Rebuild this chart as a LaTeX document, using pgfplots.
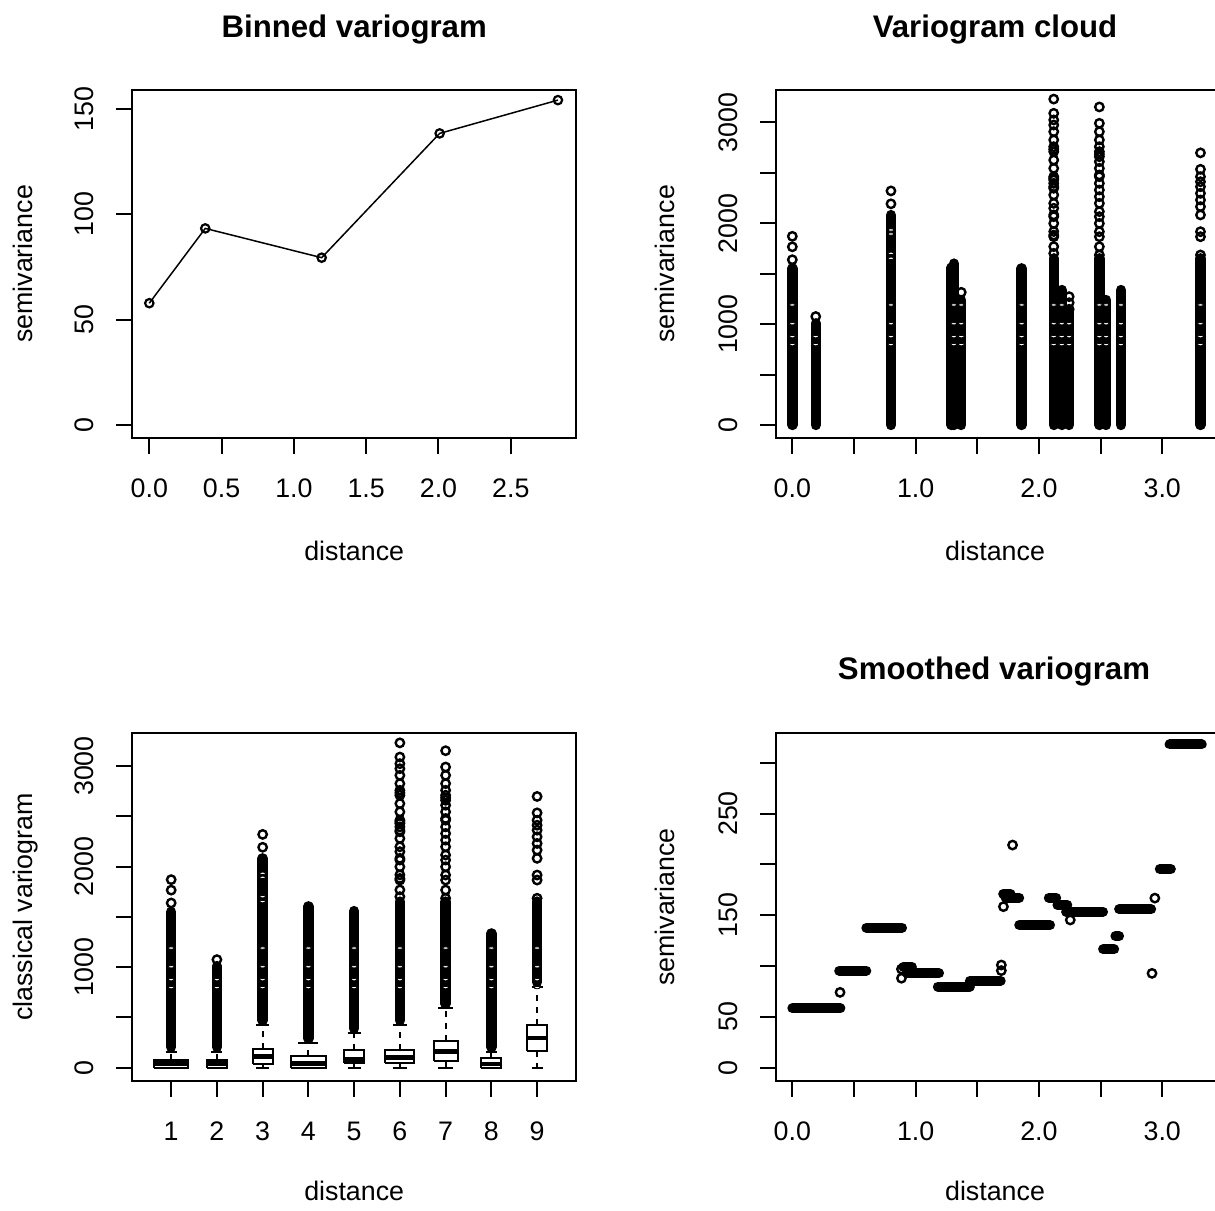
\documentclass[border=0pt]{standalone}
\usepackage{fontspec}
\setmainfont{Liberation Sans}
\usepackage{pgfplots}
\pgfplotsset{compat=1.18}

\newcommand{\lblfont}{\fontsize{13.4}{16}\selectfont}
\newcommand{\ttlfont}{\fontsize{15.6}{18}\selectfont\bfseries}

\pgfplotsset{
  rpanel/.style={
    scale only axis, anchor=south west,
    axis line style={line width=1pt},
    tick style={black, line width=1pt},
    tick align=outside, major tick length=8pt,
    xtick pos=bottom, ytick pos=left,
    tick label style={font=\lblfont, inner sep=0pt, text=black},
    xticklabel style={anchor=base, yshift=-21.8pt},
    yticklabel style={xshift=-11pt, rotate=90, anchor=south},
  },
  column/.style={black, line width=5.2pt, line cap=round},
  bar/.style={black, line width=5pt, line cap=round},
  circ/.style={black, only marks, mark=o, mark size=2.1pt, mark options={line width=1.2pt}},
  hole/.style={only marks, mark=*, mark size=1.5pt, mark options={fill=white, draw=none, yscale=0.4}},
  boxline/.style={black, line width=1pt},
  medline/.style={black, line width=2.4pt},
  whisk/.style={black, line width=1pt, dash pattern=on 3pt off 3pt},
}

\begin{document}
\begin{tikzpicture}
\useasboundingbox (0pt,0pt) rectangle (607.5pt,-605pt);

% ---------------- Binned variogram ----------------
\begin{axis}[rpanel, at={(66.15pt,-219pt)}, width=221.85pt, height=174pt,
  xmin=-0.1176, xmax=2.951, ymin=-6.2, ymax=159,
  xtick={0,0.5,1,1.5,2,2.5}, xticklabels={0.0,0.5,1.0,1.5,2.0,2.5},
  ytick={0,50,100,150}, yticklabels={0,50,100,150}]
\addplot[black, line width=0.75pt, mark=o, mark size=2.1pt,
  mark options={fill=white, line width=1.1pt}]
  coordinates {(0,57.8) (0.387,93.3) (1.192,79.4) (2.008,138.4) (2.826,154.2)};
\end{axis}

% ---------------- Variogram cloud ----------------
\begin{axis}[rpanel, at={(388pt,-219pt)}, width=220.25pt, height=174pt,
  xmin=-0.1323, xmax=3.440, ymin=-128.8, ymax=3320,
  xtick={0,0.5,1,1.5,2,2.5,3}, xticklabels={0.0,,1.0,,2.0,,3.0},
  ytick={0,500,1000,1500,2000,2500,3000}, yticklabels={0,,1000,,2000,,3000}]
\addplot[column] coordinates {(0,0) (0,1553)};
\addplot[column] coordinates {(0.19,0) (0.19,1008)};
\addplot[column] coordinates {(0.80,0) (0.80,2081)};
\addplot[column] coordinates {(1.29,0) (1.29,1560)};
\addplot[column] coordinates {(1.31,0) (1.31,1600)};
\addplot[column] coordinates {(1.37,0) (1.37,1239)};
\addplot[column] coordinates {(1.86,0) (1.86,1553)};
\addplot[column] coordinates {(2.12,0) (2.12,1652)};
\addplot[column] coordinates {(2.185,0) (2.185,1338)};
\addplot[column] coordinates {(2.245,0) (2.245,1124)};
\addplot[column] coordinates {(2.49,0) (2.49,1652)};
\addplot[column] coordinates {(2.545,0) (2.545,1239)};
\addplot[column] coordinates {(2.665,0) (2.665,1338)};
\addplot[column] coordinates {(3.31,0) (3.31,1652)};
% sparse upper values
\addplot[circ] coordinates {
  (0,1638) (0,1766) (0,1870)
  (0.19,1075)
  (0.80,2192) (0.80,2320)
  (1.37,1315)
  (2.245,1147) (2.245,1212) (2.245,1272)
  (2.12,1701) (2.12,1768) (2.12,1866) (2.12,1882) (2.12,1918) (2.12,1998)
  (2.12,2065) (2.12,2082) (2.12,2148) (2.12,2197) (2.12,2280) (2.12,2346)
  (2.12,2362) (2.12,2395) (2.12,2428) (2.12,2445) (2.12,2461) (2.12,2544)
  (2.12,2626) (2.12,2709) (2.12,2733) (2.12,2758) (2.12,2825) (2.12,2907)
  (2.12,2973) (2.12,3023) (2.12,3089) (2.12,3230)
  (2.49,1685) (2.49,1767) (2.49,1866) (2.49,1916) (2.49,1998) (2.49,2065)
  (2.49,2115) (2.49,2197) (2.49,2263) (2.49,2329) (2.49,2395) (2.49,2461)
  (2.49,2478) (2.49,2544) (2.49,2610) (2.49,2659) (2.49,2684) (2.49,2709)
  (2.49,2758) (2.49,2825) (2.49,2907) (2.49,2990) (2.49,3152)
  (3.31,1685) (3.31,1866) (3.31,1916) (3.31,2082) (3.31,2164) (3.31,2230)
  (3.31,2296) (3.31,2362) (3.31,2411) (3.31,2461) (3.31,2534) (3.31,2697)
};
% empty value levels inside the dense columns
\addplot[hole] coordinates {
  (0,797) (0,876) (0,1004) (0,1190)
  (0.19,797) (0.19,876)
  (0.80,797) (0.80,876) (0.80,1004) (0.80,1190) (0.80,1652) (0.80,1701) (0.80,1893) (0.80,1933)
  (1.31,797) (1.31,876) (1.31,1004) (1.31,1190)
  (1.37,797) (1.37,876) (1.37,1004) (1.37,1190)
  (1.86,797) (1.86,876) (1.86,1004) (1.86,1190)
  (2.12,797) (2.12,876) (2.12,1004) (2.12,1190)
  (2.185,797) (2.185,876) (2.185,1004) (2.185,1190)
  (2.245,797) (2.245,876) (2.245,1004)
  (2.49,797) (2.49,876) (2.49,1004) (2.49,1190)
  (2.545,797) (2.545,876) (2.545,1004) (2.545,1190)
  (2.665,797) (2.665,876) (2.665,1004) (2.665,1190)
  (3.31,797) (3.31,876) (3.31,1004) (3.31,1190)
};
\end{axis}

% ---------------- Classical variogram boxplots ----------------
\begin{axis}[rpanel, at={(66.15pt,-540.25pt)}, width=221.85pt, height=173.6pt,
  xmin=0.15, xmax=9.85, ymin=-127, ymax=3325,
  xtick={1,2,3,4,5,6,7,8,9}, xticklabels={1,2,3,4,5,6,7,8,9},
  ytick={0,500,1000,1500,2000,2500,3000}, yticklabels={0,,1000,,2000,,3000}]
% outliers: dense runs
\addplot[column] coordinates {(1,205) (1,1551)};
\addplot[column] coordinates {(2,205) (2,1011)};
\addplot[column] coordinates {(3,470) (3,2082)};
\addplot[column] coordinates {(4,290) (4,1605)};
\addplot[column] coordinates {(5,390) (5,1558)};
\addplot[column] coordinates {(6,470) (6,1652)};
\addplot[column] coordinates {(7,635) (7,1652)};
\addplot[column] coordinates {(8,205) (8,1336)};
\addplot[column] coordinates {(9,850) (9,1652)};
% outliers: sparse
\addplot[circ] coordinates {
  (1,1638) (1,1766) (1,1870)
  (2,1075)
  (3,2192) (3,2320)
  (6,1701) (6,1768) (6,1866) (6,1882) (6,1918) (6,1998)
  (6,2065) (6,2082) (6,2148) (6,2197) (6,2280) (6,2346)
  (6,2362) (6,2395) (6,2428) (6,2445) (6,2461) (6,2544)
  (6,2626) (6,2709) (6,2733) (6,2758) (6,2825) (6,2907)
  (6,2973) (6,3023) (6,3089) (6,3230)
  (7,1685) (7,1767) (7,1866) (7,1916) (7,1998) (7,2065)
  (7,2115) (7,2197) (7,2263) (7,2329) (7,2395) (7,2461)
  (7,2478) (7,2544) (7,2610) (7,2659) (7,2684) (7,2709)
  (7,2758) (7,2825) (7,2907) (7,2990) (7,3152)
  (9,1685) (9,1866) (9,1916) (9,2082) (9,2164) (9,2230)
  (9,2296) (9,2362) (9,2411) (9,2461) (9,2534) (9,2697)
};
\addplot[hole] coordinates {
  (1,797) (1,876) (1,1004) (1,1190)
  (2,797) (2,876)
  (3,797) (3,876) (3,1004) (3,1190) (3,1652) (3,1701) (3,1893) (3,1933)
  (4,797) (4,876) (4,1004) (4,1190)
  (5,797) (5,876) (5,1004) (5,1190)
  (6,797) (6,876) (6,1004) (6,1190)
  (7,797) (7,876) (7,1004) (7,1190)
  (8,797) (8,876) (8,1004) (8,1190)
  (9,797) (9,876) (9,1004) (9,1190)
};
% whiskers (dashed) from the quartiles to the whisker ends
\addplot[whisk] coordinates {(1,80) (1,159)};
\addplot[whisk] coordinates {(2,80) (2,159)};
\addplot[whisk] coordinates {(3,183) (3,425)};
\addplot[whisk] coordinates {(3,40) (3,0)};
\addplot[whisk] coordinates {(4,120) (4,243)};
\addplot[whisk] coordinates {(5,176) (5,342)};
\addplot[whisk] coordinates {(5,45) (5,0)};
\addplot[whisk] coordinates {(6,180) (6,425)};
\addplot[whisk] coordinates {(6,45) (6,0)};
\addplot[whisk] coordinates {(7,265) (7,590)};
\addplot[whisk] coordinates {(7,70) (7,0)};
\addplot[whisk] coordinates {(8,101) (8,160)};
\addplot[whisk] coordinates {(9,428) (9,805)};
\addplot[whisk] coordinates {(9,170) (9,0)};
% whisker caps (upper and lower)
\addplot[boxline] coordinates {(0.88,159) (1.12,159)};
\addplot[boxline] coordinates {(0.88,0) (1.12,0)};
\addplot[boxline] coordinates {(1.88,159) (2.12,159)};
\addplot[boxline] coordinates {(1.88,0) (2.12,0)};
\addplot[boxline] coordinates {(2.86,425) (3.14,425)};
\addplot[boxline] coordinates {(2.86,0) (3.14,0)};
\addplot[boxline] coordinates {(3.78,243) (4.22,243)};
\addplot[boxline] coordinates {(3.78,0) (4.22,0)};
\addplot[boxline] coordinates {(4.86,342) (5.14,342)};
\addplot[boxline] coordinates {(4.86,0) (5.14,0)};
\addplot[boxline] coordinates {(5.84,425) (6.16,425)};
\addplot[boxline] coordinates {(5.84,0) (6.16,0)};
\addplot[boxline] coordinates {(6.83,590) (7.17,590)};
\addplot[boxline] coordinates {(6.83,0) (7.17,0)};
\addplot[boxline] coordinates {(7.88,160) (8.12,160)};
\addplot[boxline] coordinates {(7.88,0) (8.12,0)};
\addplot[boxline] coordinates {(8.88,805) (9.12,805)};
\addplot[boxline] coordinates {(8.88,0) (9.12,0)};
% boxes: lower quartile to upper quartile
\addplot[boxline, fill=white] coordinates {(0.6325,0) (1.3675,0) (1.3675,80) (0.6325,80) (0.6325,0)};
\addplot[boxline, fill=white] coordinates {(1.775,0) (2.225,0) (2.225,80) (1.775,80) (1.775,0)};
\addplot[boxline, fill=white] coordinates {(2.78,40) (3.22,40) (3.22,183) (2.78,183) (2.78,40)};
\addplot[boxline, fill=white] coordinates {(3.615,0) (4.385,0) (4.385,120) (3.615,120) (3.615,0)};
\addplot[boxline, fill=white] coordinates {(4.785,45) (5.215,45) (5.215,176) (4.785,176) (4.785,45)};
\addplot[boxline, fill=white] coordinates {(5.685,45) (6.315,45) (6.315,180) (5.685,180) (5.685,45)};
\addplot[boxline, fill=white] coordinates {(6.74,70) (7.26,70) (7.26,265) (6.74,265) (6.74,70)};
\addplot[boxline, fill=white] coordinates {(7.78,0) (8.22,0) (8.22,101) (7.78,101) (7.78,0)};
\addplot[boxline, fill=white] coordinates {(8.79,170) (9.21,170) (9.21,428) (8.79,428) (8.79,170)};
% medians
\addplot[medline] coordinates {(0.6325,42) (1.3675,42)};
\addplot[medline] coordinates {(1.775,42) (2.225,42)};
\addplot[medline] coordinates {(2.78,111) (3.22,111)};
\addplot[medline] coordinates {(3.615,45) (4.385,45)};
\addplot[medline] coordinates {(4.785,82) (5.215,82)};
\addplot[medline] coordinates {(5.685,101) (6.315,101)};
\addplot[medline] coordinates {(6.74,160) (7.26,160)};
\addplot[medline] coordinates {(7.78,38) (8.22,38)};
\addplot[medline] coordinates {(8.79,295) (9.21,295)};
\end{axis}

% ---------------- Smoothed variogram ----------------
\begin{axis}[rpanel, at={(388pt,-540.25pt)}, width=220.25pt, height=173.6pt,
  xmin=-0.1323, xmax=3.440, ymin=-12.6, ymax=328.9,
  xtick={0,0.5,1,1.5,2,2.5,3}, xticklabels={0.0,,1.0,,2.0,,3.0},
  ytick={0,50,100,150,200,250,300}, yticklabels={0,50,,150,,250,}]
\addplot[bar] coordinates {(0.00,58.4) (0.39,58.4)};
\addplot[bar] coordinates {(0.38,95.4) (0.60,95.4)};
\addplot[bar] coordinates {(0.60,137.7) (0.89,137.7)};
\addplot[bar] coordinates {(0.90,99.3) (0.97,99.3)};
\addplot[bar] coordinates {(0.93,92.8) (1.19,92.8)};
\addplot[bar] coordinates {(1.18,79.7) (1.44,79.7)};
\addplot[bar] coordinates {(1.44,85.6) (1.69,85.6)};
\addplot[bar] coordinates {(1.71,170.8) (1.77,170.8)};
\addplot[bar] coordinates {(1.73,167.2) (1.84,167.2)};
\addplot[bar] coordinates {(1.84,140.3) (2.09,140.3)};
\addplot[bar] coordinates {(2.08,167.2) (2.14,167.2)};
\addplot[bar] coordinates {(2.15,160.0) (2.23,160.0)};
\addplot[bar] coordinates {(2.22,153.5) (2.52,153.5)};
\addplot[bar] coordinates {(2.52,116.4) (2.61,116.4)};
\addplot[bar] coordinates {(2.62,129.5) (2.65,129.5)};
\addplot[bar] coordinates {(2.65,155.8) (2.91,155.8)};
\addplot[bar] coordinates {(2.98,195.4) (3.07,195.4)};
\addplot[bar] coordinates {(3.06,318.0) (3.32,318.0)};
\addplot[circ] coordinates {
  (0.387,74.1) (0.885,88) (0.885,97) (1.695,101) (1.695,95.5)
  (1.712,158.4) (1.786,219) (2.254,145.3) (2.94,166.8) (2.917,92.8)
};
\end{axis}

% ---------------- titles and axis labels ----------------
\node[font=\ttlfont, anchor=base] at (177.1pt,-18.75pt) {Binned variogram};
\node[font=\ttlfont, anchor=base] at (497.5pt,-18.75pt) {Variogram cloud};
\node[font=\ttlfont, anchor=base] at (497pt,-339.65pt) {Smoothed variogram};
\node[font=\lblfont, anchor=base] at (177.1pt,-280pt) {distance};
\node[font=\lblfont, anchor=base] at (497.5pt,-280pt) {distance};
\node[font=\lblfont, anchor=base] at (177.1pt,-600.35pt) {distance};
\node[font=\lblfont, anchor=base] at (497.5pt,-600.35pt) {distance};
\node[font=\lblfont, anchor=base, rotate=90] at (16.25pt,-132pt) {semivariance};
\node[font=\lblfont, anchor=base, rotate=90] at (337.4pt,-132pt) {semivariance};
\node[font=\lblfont, anchor=base, rotate=90] at (16.25pt,-453.5pt) {classical variogram};
\node[font=\lblfont, anchor=base, rotate=90] at (337.4pt,-453.5pt) {semivariance};
\end{tikzpicture}
\end{document}
